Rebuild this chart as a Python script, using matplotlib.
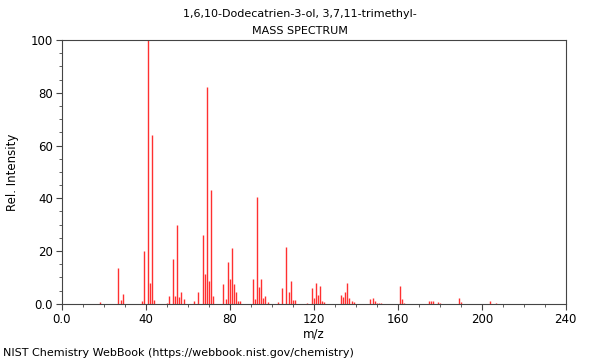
import matplotlib
matplotlib.use("Agg")
import matplotlib.pyplot as plt
from matplotlib.ticker import MultipleLocator, FixedFormatter, FixedLocator

# peaks
mz = [18, 27, 28, 29, 38, 39, 41, 42, 43, 44,
      50, 51, 53, 54, 55, 56, 57, 58, 63, 65,
      67, 68, 69, 70, 71, 72, 77, 78, 79, 80,
      81, 82, 83, 84, 85, 91, 92, 93, 94, 95,
      96, 97, 98, 103, 105, 107, 108, 109, 110, 111,
      117, 119, 120, 121, 122, 123, 124, 125, 133, 134,
      135, 136, 137, 138, 139, 147, 148, 149, 150, 151,
      152, 161, 162, 163, 175, 176, 177, 179, 180, 189,
      190, 204, 207]
intensity = [0.7, 13.5, 1.5, 3.8, 1.0, 20.0, 100.0, 8.0, 64.0, 1.5,
             0.5, 3.0, 17.0, 3.0, 30.0, 2.6, 4.5, 2.0, 0.9, 4.5,
             26.0, 11.4, 82.0, 8.7, 43.0, 2.9, 7.5, 1.9, 15.8, 9.5,
             21.2, 7.5, 4.5, 1.1, 1.1, 9.3, 1.8, 40.5, 6.4, 9.5,
             2.3, 3.0, 0.7, 0.7, 5.9, 21.6, 4.3, 8.7, 1.5, 1.5,
             0.5, 6.0, 2.4, 7.8, 3.4, 6.8, 1.1, 0.8, 3.4, 2.6,
             4.5, 8.0, 2.3, 1.1, 0.7, 1.9, 2.4, 1.1, 0.5, 0.4,
             0.4, 6.9, 1.9, 0.4, 0.9, 0.9, 0.9, 0.8, 0.5, 2.3,
             0.8, 0.9, 0.3]

x_ticks = [0, 40, 80, 120, 160, 200, 240]
x_labels = ["0.0", "40", "80", "120", "160", "200", "240"]
y_ticks = [0, 20, 40, 60, 80, 100]
y_labels = ["0.0", "20", "40", "60", "80", "100"]

fig = plt.figure(figsize=(6, 3.6), dpi=100)
ax = fig.add_axes([0.103, 0.156, 0.840, 0.733])

ax.vlines(mz, 0, intensity, colors="#ff3030", linewidth=1.0)

ax.set_xlim(0, 240)
ax.set_ylim(0, 100)
ax.xaxis.set_major_locator(FixedLocator(x_ticks))
ax.xaxis.set_major_formatter(FixedFormatter(x_labels))
ax.xaxis.set_minor_locator(MultipleLocator(10))
ax.yaxis.set_major_locator(FixedLocator(y_ticks))
ax.yaxis.set_major_formatter(FixedFormatter(y_labels))
ax.yaxis.set_minor_locator(MultipleLocator(5))
ax.tick_params(which="both", direction="out", labelsize=8.5, color="#444444", pad=2.5)
ax.tick_params(which="major", length=4)
ax.tick_params(which="minor", length=2.5)
for s in ax.spines.values():
    s.set_color("#444444")

ax.set_xlabel("m/z", fontsize=8.5, labelpad=1)
ax.set_ylabel("Rel. Intensity", fontsize=8.5, labelpad=8)

fig.text(0.5, 0.962, "1,6,10-Dodecatrien-3-ol, 3,7,11-trimethyl-",
         ha="center", va="center", fontsize=8)
fig.text(0.5, 0.915, "MASS SPECTRUM", ha="center", va="center", fontsize=8)
fig.text(0.005, 0.005, "NIST Chemistry WebBook (https://webbook.nist.gov/chemistry)",
         ha="left", va="bottom", fontsize=8)

fig.savefig("out.png", dpi=100)
